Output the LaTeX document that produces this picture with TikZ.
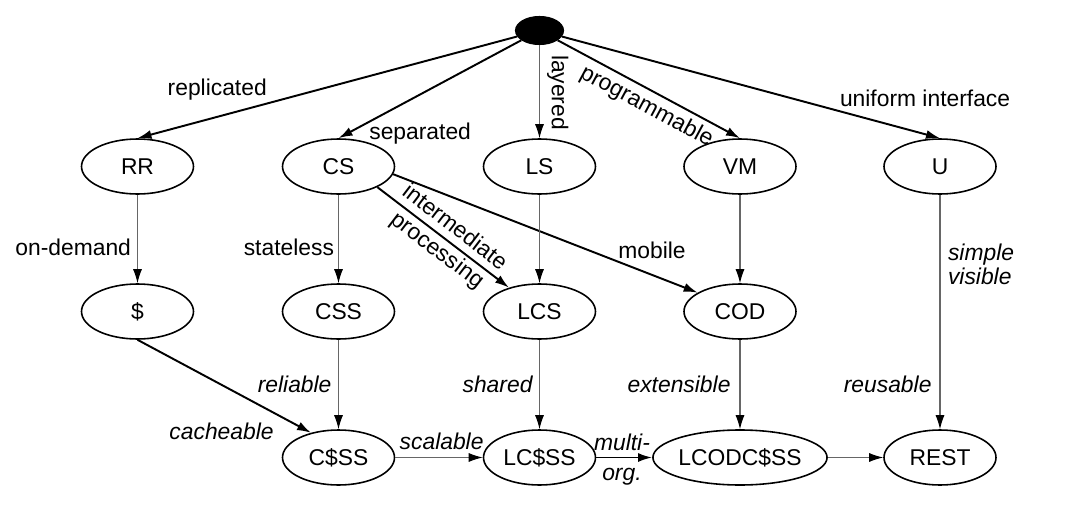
\documentclass[tikz,border=0pt]{standalone}
\usepackage{fontspec}
\setmainfont{Liberation Sans}
\usepackage{tikz}
\usetikzlibrary{shapes,arrows.meta,positioning,calc}

\begin{document}
\begin{tikzpicture}[
	font=\fontsize{13}{15}\selectfont,
	archnode/.style={ellipse, draw, line width=0.9pt, minimum width=2.24cm, minimum height=1.1cm, inner sep=0pt},
	strong/.style={line width=1.1pt, -{Latex[length=2.8mm,width=1.8mm]}},
	weak/.style={line width=0.6pt, black!60, -{Latex[length=2.8mm,width=1.8mm,color=black]}},
	lbl/.style={inner sep=0pt, text=black},
	ilbl/.style={lbl, font=\fontsize{13}{14}\selectfont\itshape}
	]
	\useasboundingbox (0,0) rectangle (21.32,10.32);
	% null style on top
	\node[archnode, fill=black, minimum width=0.95cm, minimum height=0.55cm] (top) at (10.79,9.71) {};
	% first derivations
	\node[archnode] (RR) at (2.75,6.99) {RR};
	\node[archnode] (CS) at (6.77,6.99) {CS};
	\node[archnode] (LS) at (10.79,6.99) {LS};
	\node[archnode] (VM) at (14.80,6.99) {VM};
	\node[archnode] (U) at (18.80,6.99) {U};
	\node[archnode] (dollar) at (2.75,4.09) {\$};
	\node[archnode] (CSS) at (6.77,4.09) {CSS};
	\node[archnode] (LCS) at (10.79,4.09) {LCS};
	\node[archnode] (COD) at (14.80,4.09) {COD};
	\node[archnode] (CdSS) at (6.77,1.17) {C\$SS};
	\node[archnode] (LCdSS) at (10.79,1.17) {LC\$SS};
	\node[archnode, minimum width=3.18cm] (LCODCdSS) at (14.80,1.17) {LCODC\$SS};
	\node[archnode] (REST) at (18.80,1.17) {REST};

	\draw[strong] (top) -- (RR.north) node[lbl, pos=0.79, above=0.32cm] {replicated};
	\draw[strong] (top) -- (CS.north) node[lbl, pos=0.957, right=0.44cm] {separated};
	\draw[weak] (top) -- (LS) node[lbl, pos=0.51, rotate=-90, anchor=south, inner ysep=4pt] {layered};
	\draw[strong] (top) -- (VM.north) node[lbl, sloped, pos=0.53, below=0.1cm] {programmable};
	\draw[strong] (top) -- (U.north) node[lbl, pos=0.733, anchor=south west, yshift=2pt] {uniform interface};

	\draw[weak] (RR) -- (dollar) node[lbl, pos=0.59, left=0.12cm] {on-demand};
	\draw[weak] (CS) -- (CSS) node[lbl, pos=0.59, left=0.08cm] {stateless};
	\draw[strong] (CS.-28) -- (LCS.142) node[lbl, sloped, pos=0.52, align=center, font=\fontsize{13}{16.5}\selectfont] {intermediate\\processing};
	\draw[strong] (CS.-8) -- (COD.156) node[lbl, pos=0.85, above=0.3cm] {mobile};
	\draw[weak] (U) -- (REST) node[ilbl, pos=0.296, right=0.15cm, align=left] {simple\\visible}
		node[ilbl, pos=0.807, left=0.16cm] {reusable};

	\draw[strong] (dollar.south) -- (CdSS.138) node[ilbl, pos=0.79, anchor=north east, yshift=-0.17cm] {cacheable};
	\draw[weak] (CSS) -- (CdSS) node[ilbl, pos=0.5, left=0.13cm] {reliable};
	\draw[weak] (LCS) -- (LCdSS) node[ilbl, pos=0.5, left=0.13cm] {shared};
	\draw[weak] (COD) -- (LCODCdSS) node[ilbl, pos=0.5, left=0.18cm] {extensible};
	\draw[weak] (CdSS) -- (LCdSS) node[ilbl, pos=0.53, above=0.15cm] {scalable};
	\draw[strong] (LCdSS) -- (LCODCdSS) node[ilbl, pos=0.46, align=center, yshift=-0.04cm, font=\fontsize{13}{17}\selectfont\itshape] {multi-\\org.};
	\foreach \a/\b in {LS/LCS, VM/COD, LCODCdSS/REST} {
		\draw[weak] (\a) -- (\b);
	}
\end{tikzpicture}
\end{document}
